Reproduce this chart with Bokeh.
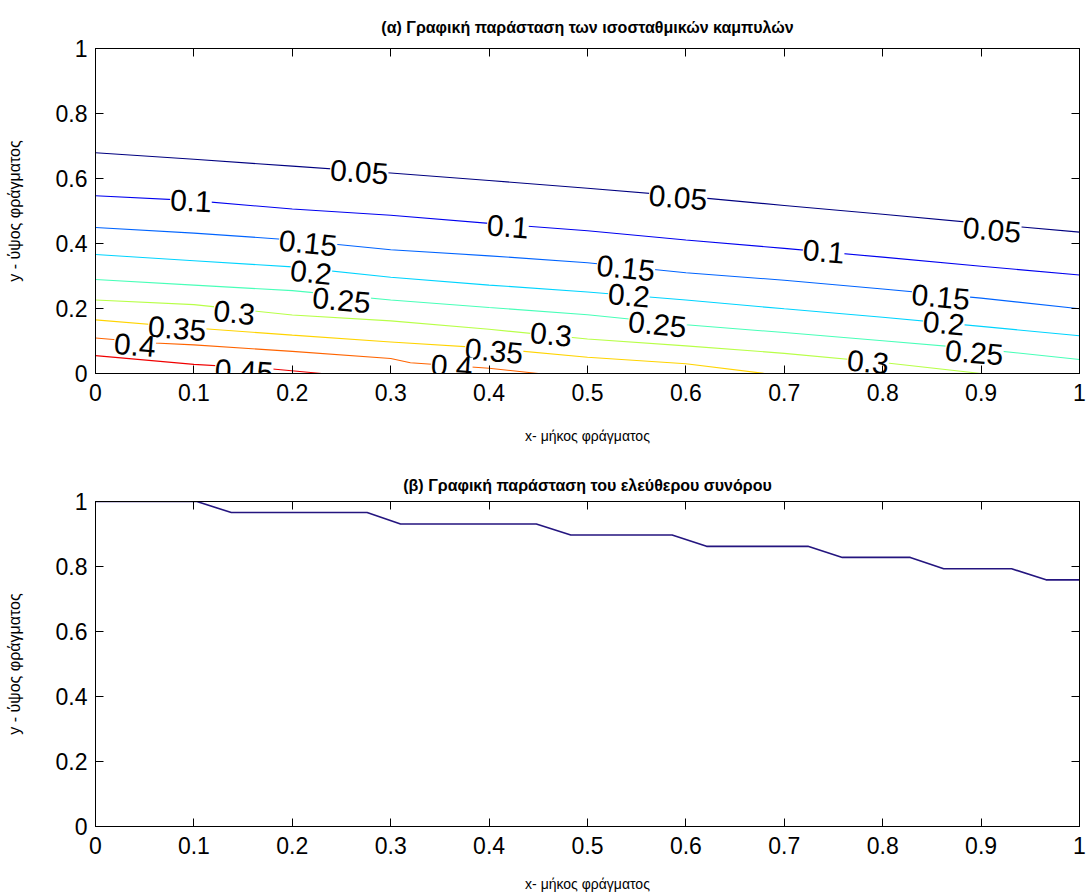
import math
from bokeh.plotting import figure
from bokeh.layouts import column
from bokeh.models import (LinearAxis, FixedTicker, NumeralTickFormatter, Range1d,
                          ColumnDataSource)
from bokeh.core.properties import value
from bokeh.embed import file_html
from bokeh.resources import INLINE

# ---------------- data: contour lines (top panel) ----------------
levels = [0.05, 0.10, 0.15, 0.20, 0.25, 0.30, 0.35, 0.40, 0.45]
level_colors = ["#000080", "#0000F0", "#0064FF", "#00D4FF", "#48FFB8",
                "#B8FF48", "#FFD400", "#FF6400", "#F00000"]

c05_x = [0, 0.1, 0.2, 0.3, 0.4, 0.5, 0.6, 0.7, 0.8, 0.9, 1.0]
c05_y = [0.679, 0.659, 0.638, 0.617, 0.594, 0.570, 0.545, 0.517, 0.490, 0.462, 0.435]
c10_x = [0, 0.1, 0.2, 0.3, 0.4, 0.5, 0.6, 0.7, 0.8, 0.9, 1.0]
c10_y = [0.547, 0.532, 0.506, 0.487, 0.462, 0.439, 0.411, 0.385, 0.358, 0.330, 0.303]
c15_x = [0, 0.1, 0.2, 0.3, 0.4, 0.5, 0.6, 0.7, 0.8, 0.9, 1.0]
c15_y = [0.449, 0.432, 0.411, 0.381, 0.362, 0.341, 0.310, 0.287, 0.260, 0.232, 0.199]
c20_x = [0, 0.1, 0.2, 0.3, 0.4, 0.5, 0.6, 0.7, 0.8, 0.9, 1.0]
c20_y = [0.366, 0.347, 0.328, 0.296, 0.272, 0.251, 0.226, 0.199, 0.173, 0.145, 0.116]
c25_x = [0, 0.1, 0.2, 0.3, 0.4, 0.5, 0.6, 0.7, 0.8, 0.9, 1.0]
c25_y = [0.289, 0.272, 0.255, 0.226, 0.203, 0.181, 0.150, 0.126, 0.101, 0.075, 0.043]
c30_x = [0, 0.1, 0.2, 0.3, 0.4, 0.5, 0.6, 0.7, 0.8, 0.9]
c30_y = [0.226, 0.212, 0.180, 0.162, 0.136, 0.106, 0.085, 0.062, 0.034, 0.0]
c35_x = [0, 0.1, 0.2, 0.3, 0.4, 0.5, 0.6, 0.68]
c35_y = [0.165, 0.140, 0.118, 0.097, 0.078, 0.050, 0.030, 0.0]
c40_x = [0, 0.06, 0.1, 0.2, 0.3, 0.32, 0.4, 0.45]
c40_y = [0.109, 0.094, 0.088, 0.068, 0.046, 0.033, 0.016, 0.0]
c45_x = [0, 0.1, 0.18, 0.23]
c45_y = [0.055, 0.028, 0.014, 0.0]

contour_xs = [c05_x, c10_x, c15_x, c20_x, c25_x, c30_x, c35_x, c40_x, c45_x]
contour_ys = [c05_y, c10_y, c15_y, c20_y, c25_y, c30_y, c35_y, c40_y, c45_y]

# contour labels: level, x, y
label_level = [0.05, 0.05, 0.05, 0.10, 0.10, 0.10, 0.15, 0.15, 0.15,
               0.20, 0.20, 0.20, 0.25, 0.25, 0.25, 0.30, 0.30, 0.30,
               0.35, 0.35, 0.40, 0.40, 0.45]
label_x = [0.268, 0.592, 0.911, 0.097, 0.419, 0.740, 0.216, 0.539, 0.859,
           0.219, 0.542, 0.862, 0.250, 0.571, 0.893, 0.141, 0.463, 0.785,
           0.083, 0.405, 0.040, 0.362, 0.151]
label_y = [0.619, 0.540, 0.440, 0.530, 0.451, 0.374, 0.400, 0.323, 0.234,
           0.310, 0.239, 0.153, 0.224, 0.150, 0.063, 0.186, 0.119, 0.034,
           0.137, 0.068, 0.086, 0.022, 0.006]

# ---------------- data: free boundary (bottom panel) ----------------
bnd_x = [0, 0.103, 0.138, 0.276, 0.310, 0.448, 0.483, 0.586, 0.621,
         0.724, 0.759, 0.828, 0.862, 0.931, 0.966, 1.0]
bnd_y = [1.0, 1.0, 0.966, 0.966, 0.931, 0.931, 0.897, 0.897, 0.862,
         0.862, 0.828, 0.828, 0.793, 0.793, 0.759, 0.759]

x_ticks = [0, 0.1, 0.2, 0.3, 0.4, 0.5, 0.6, 0.7, 0.8, 0.9, 1.0]
y_ticks = [0, 0.2, 0.4, 0.6, 0.8, 1.0]

title_a = "(α) Γραφική παράσταση των ισοσταθμικών καμπυλών"
title_b = "(β) Γραφική παράσταση του ελεύθερου συνόρου"
xlabel = "x- μήκος φράγματος"
ylabel = "y - ύψος φράγματος"

FW, FH = 984, 325
FONT = "Liberation Sans"


def make_fig(title, top, bottom, title_standoff, xlabel_standoff):
    p = figure(frame_width=FW, frame_height=FH,
               x_range=Range1d(0, 1), y_range=Range1d(0, 1),
               output_backend="svg", toolbar_location=None,
               min_border_left=95, min_border_right=10,
               min_border_top=top, min_border_bottom=bottom,
               title=title)
    p.title.align = "center"
    p.title.text_font = FONT
    p.title.text_font_style = "bold"
    p.title.text_font_size = "16px"
    p.title.text_color = "black"
    p.title.standoff = title_standoff
    p.grid.visible = False
    p.outline_line_color = "black"
    p.background_fill_color = "white"
    p.border_fill_color = "white"

    xt = FixedTicker(ticks=x_ticks)
    yt = FixedTicker(ticks=y_ticks)
    fmt = NumeralTickFormatter(format="0.[0]")

    xa = p.xaxis[0]
    xa.ticker = xt
    xa.formatter = fmt
    xa.axis_label = xlabel
    ya = p.yaxis[0]
    ya.ticker = yt
    ya.formatter = fmt
    ya.axis_label = ylabel
    for ax in (xa, ya):
        ax.major_tick_in = 8
        ax.major_tick_out = 0
        ax.minor_tick_line_color = None
        ax.axis_line_color = "black"
        ax.major_tick_line_color = "black"
        ax.major_label_text_font = FONT
        ax.major_label_text_font_size = "23px"
        ax.major_label_text_color = "black"
        ax.axis_label_text_font = FONT
        ax.axis_label_text_font_style = "normal"
        ax.axis_label_text_color = "black"
    xa.axis_label_text_font_size = "14px"
    ya.axis_label_text_font_size = "16px"
    xa.major_label_standoff = 10
    xa.axis_label_standoff = xlabel_standoff
    ya.major_label_standoff = 8
    ya.axis_label_standoff = 30

    for loc, tk in (("above", x_ticks), ("right", y_ticks)):
        ax = LinearAxis(ticker=FixedTicker(ticks=tk), major_tick_in=8,
                        major_tick_out=0, minor_tick_line_color=None,
                        major_label_overrides={t: "" for t in tk},
                        major_label_standoff=0, axis_line_color="black",
                        major_tick_line_color="black")
        p.add_layout(ax, loc)
    return p


# ---------------- top panel ----------------
p1 = make_fig(title_a, 48, 80, 25, 24)

for lev, col, xs, ys in zip(levels, level_colors, contour_xs, contour_ys):
    p1.line(xs, ys, line_color=col, line_width=1.1)
    idx = [i for i, l in enumerate(label_level) if abs(l - lev) < 1e-9]
    if not idx:
        continue
    lx = [label_x[i] for i in idx]
    ly = [label_y[i] for i in idx]
    angs = []
    for x0 in lx:
        # local slope of this contour at the label position (pixel space)
        k = 0
        while k < len(xs) - 2 and xs[k + 1] < x0:
            k += 1
        s = (ys[k + 1] - ys[k]) / (xs[k + 1] - xs[k])
        angs.append(math.atan(s * FH / FW))
    txt = [("%g" % lev) for _ in idx]
    src = ColumnDataSource(dict(x=lx, y=ly, text=txt, angle=angs))
    p1.text(x="x", y="y", text="text", angle="angle", source=src,
            text_align="center", text_baseline="middle",
            text_font=value(FONT), text_font_size="30px", text_color="black",
            background_fill_color="white")

# ---------------- bottom panel ----------------
p2 = make_fig(title_b, 48, 70, 16, 19)
p2.line(bnd_x, bnd_y, line_color="#24157F", line_width=1.6)

layout = column(p1, p2, spacing=0)
open("out.html", "w").write(file_html(layout, INLINE))
